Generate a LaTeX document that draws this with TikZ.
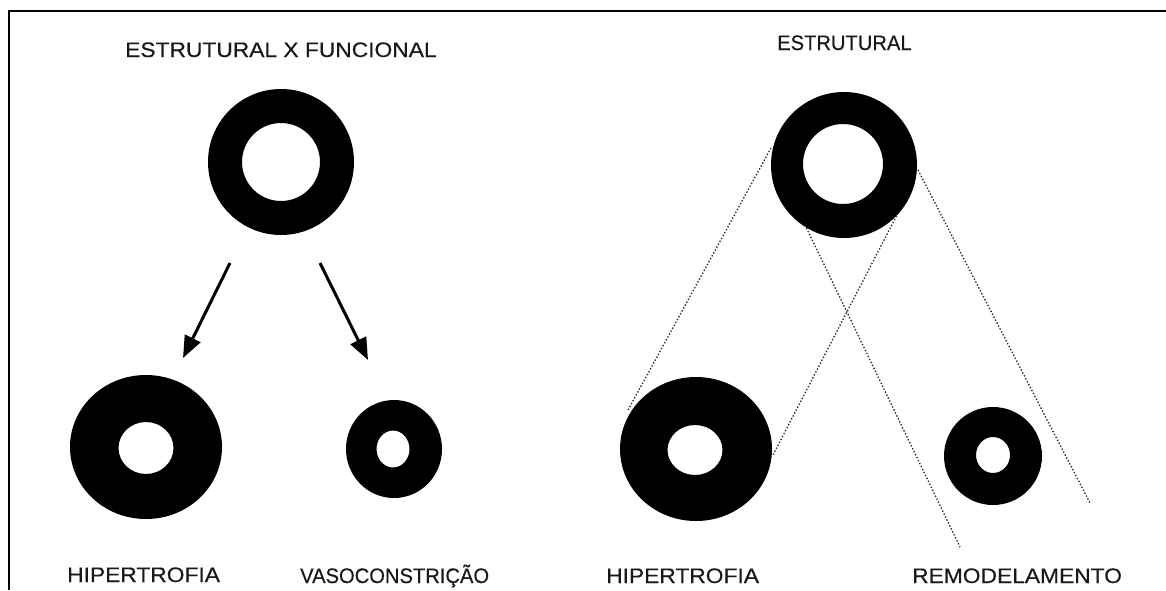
\documentclass[tikz,border=0pt]{standalone}
\usepackage{fontspec}
\newfontfamily\lab[FakeStretch=1.085,FakeBold=0.4]{Liberation Sans}
\newfontfamily\labn[FakeStretch=0.96,FakeBold=0.4]{Liberation Sans}
\usetikzlibrary{arrows.meta}
\begin{document}
\begin{tikzpicture}[x=1pt,y=-1pt,
  labeltext/.style={anchor=base west, inner sep=0pt, font=\lab\fontsize{21}{21}\selectfont, text=black!90},
  narrowtext/.style={labeltext, font=\labn\fontsize{21}{21}\selectfont},
  ring/.style={fill=black, even odd rule},
  bigarrow/.style={line width=3pt, -{Triangle[length=22pt,width=17pt]}},
  dotline/.style={draw=black!85, line width=1.3pt, dash pattern=on 1.4pt off 1.9pt},
  frameline/.style={line width=2pt}]
\useasboundingbox (0,0) rectangle (1166,590);
\draw[frameline] (9,590) -- (9,11) -- (1166,11);

% rings
\coordinate (tl) at (281,162);
\coordinate (tr) at (844,165);
\coordinate (bl1) at (146,447);
\coordinate (bl2) at (394,449);
\coordinate (br1) at (696,449);
\coordinate (br2) at (993,456);
\fill[ring] (tl) circle[radius=73pt] (281,162) circle[radius=39pt];
\fill[ring] (tr) circle[radius=73pt] (843,164) circle[radius=40pt];
\fill[ring] (bl1) ellipse[x radius=76pt, y radius=72pt] (146,448) ellipse[x radius=27.5pt, y radius=26pt];
\fill[ring] (bl2) ellipse[x radius=48pt, y radius=49pt] (393,449) ellipse[x radius=16.5pt, y radius=18.5pt];
\fill[ring] (br1) ellipse[x radius=76pt, y radius=72pt] (695,450) ellipse[x radius=27.5pt, y radius=25pt];
\fill[ring] (br2) ellipse[x radius=49pt, y radius=49pt] (993,455) ellipse[x radius=17pt, y radius=18pt];

% arrows
\coordinate (a1s) at (230,263);
\coordinate (a1e) at (183,358);
\coordinate (a2s) at (320,263);
\coordinate (a2e) at (368,360);
\draw[bigarrow] (a1s) -- (a1e);
\draw[bigarrow] (a2s) -- (a2e);

% dotted lines
\coordinate (d1s) at (771,148);
\coordinate (d1e) at (628,410);
\coordinate (d2s) at (805,225);
\coordinate (d2e) at (960,547);
\coordinate (d3s) at (898,213);
\coordinate (d3e) at (773,455);
\coordinate (d4s) at (918,170);
\coordinate (d4e) at (1090,503);
\draw[dotline] (d1s) -- (d1e);
\draw[dotline] (d2s) -- (d2e);
\draw[dotline] (d3s) -- (d3e);
\draw[dotline] (d4s) -- (d4e);

% labels
\node[labeltext] (t1) at (125,57) {ESTRUTURAL X FUNCIONAL};
\node[narrowtext] (t2) at (777,50) {ESTRUTURAL};
\node[labeltext] (t3) at (67,582) {HIPERTROFIA};
\node[narrowtext] (t4) at (300,583) {VASOCONSTRIÇÃO};
\node[labeltext] (t5) at (606,583) {HIPERTROFIA};
\node[labeltext] (t6) at (912,583) {REMODELAMENTO};
\end{tikzpicture}
\end{document}
